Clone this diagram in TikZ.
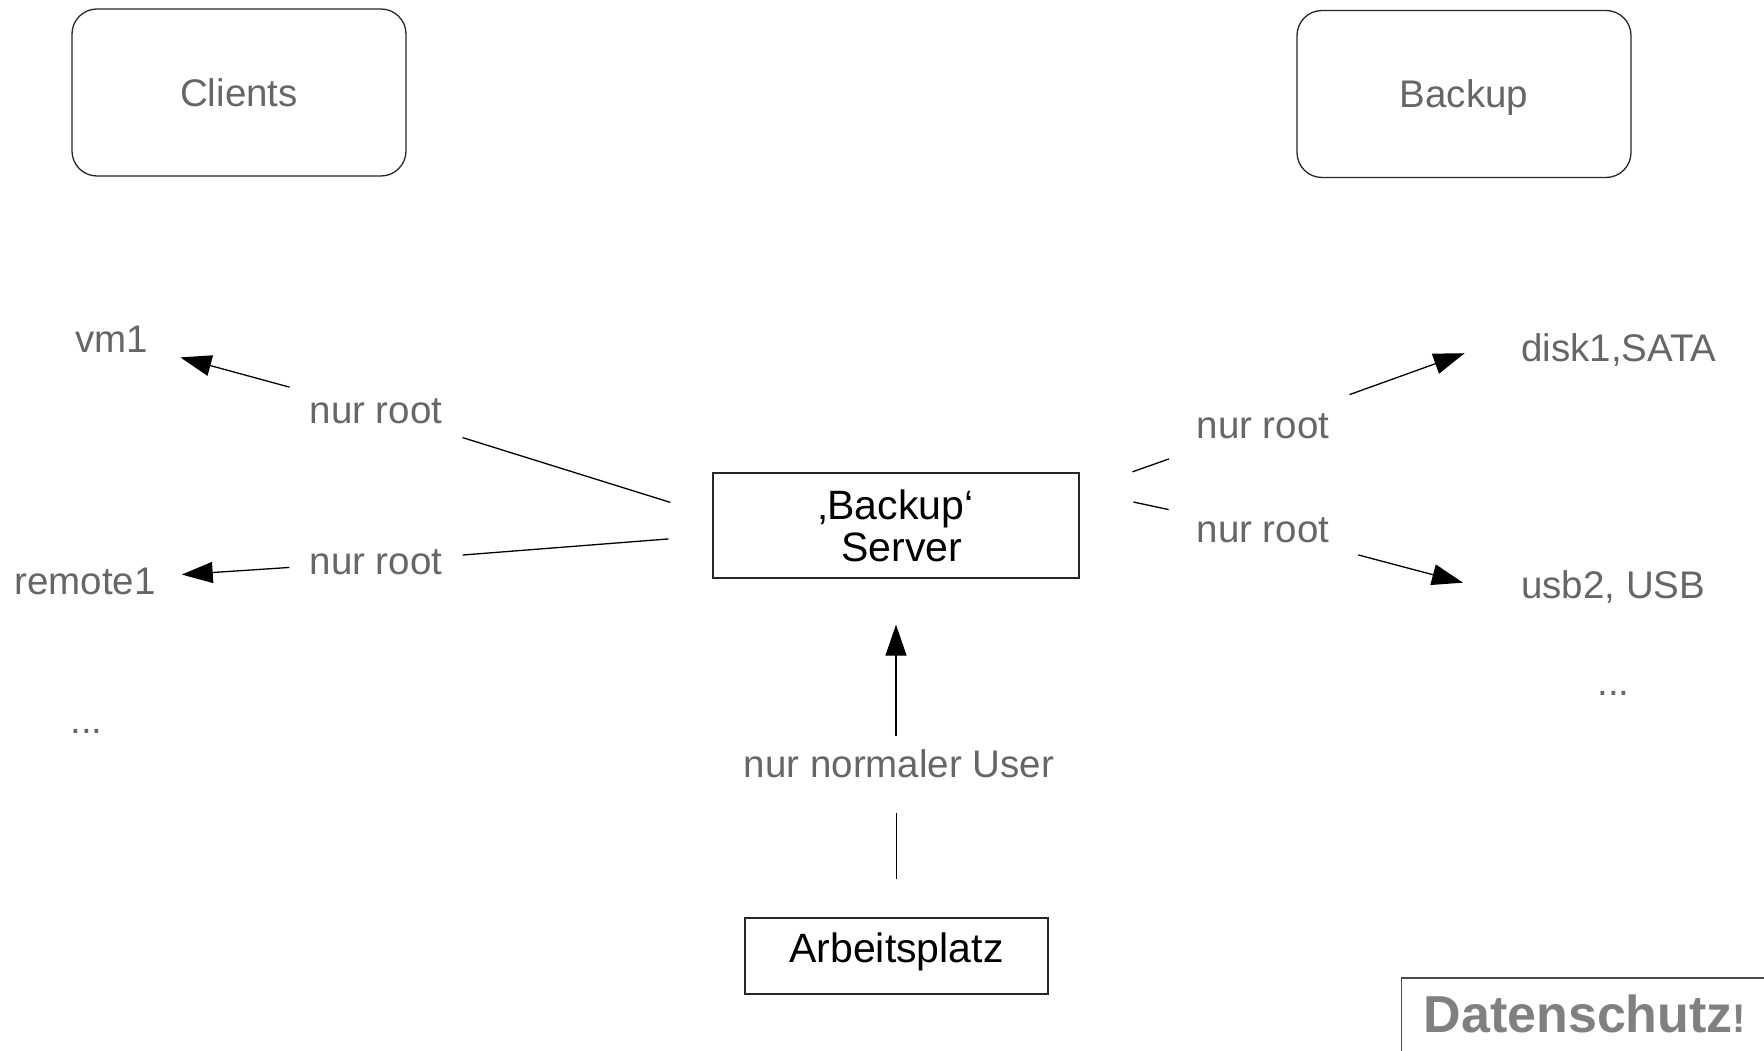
\documentclass[tikz,border=0pt]{standalone}
\usepackage{fontspec}
\setmainfont{Liberation Sans}
\usetikzlibrary{arrows.meta,calc}
\definecolor{txtgray}{HTML}{666666}
\definecolor{dsgray}{HTML}{808080}
\begin{document}
\begin{tikzpicture}[x=1pt,y=-1pt,
  gtext/.style={font=\fontsize{38.5}{46}\selectfont, text=txtgray, inner sep=0pt},
  lab/.style={gtext, inner xsep=20pt, inner ysep=20pt},
  btext/.style={font=\fontsize{41}{42}\selectfont, text=black},
  group/.style={draw=black!85, line width=1.3pt, rounded corners=25pt, minimum width=334pt, minimum height=167pt, gtext, text height=27.5pt, text depth=0pt},
  box/.style={draw=black!85, line width=1.3pt, btext, align=center},
  conn/.style={draw=black, line width=1.3pt},
  arr/.style={conn, -{Triangle[length=31pt,width=21pt]}}
]
\useasboundingbox (0,0) rectangle (1764,1051);

% group headers
\node[group] (clients) at (239,92.5) {Clients};
\node[group] (backupgrp) at (1464,94) {Backup};

% main boxes
\node[box, minimum width=366pt, minimum height=105pt] (server) at (896,525.5) {‚Backup‘\\~Server};
\node[box, minimum width=303pt, minimum height=76pt, text height=30pt, text depth=18pt] (arbeit) at (896.5,956) {Arbeitsplatz};

% labels on connectors
\node[lab, anchor=base] (labL1) at (376,423) {nur root};
\node[lab, anchor=base] (labL2) at (376,574) {nur root};
\node[lab, anchor=base] (labR1) at (1263,438) {nur root};
\node[lab, anchor=base] (labR2) at (1263,542) {nur root};
\node[lab, anchor=base] (userlab) at (899,777) {nur normaler User};

% plain text items
\node[gtext, anchor=base] (vm1) at (112,352) {vm1};
\node[gtext, anchor=base] (remote1) at (85,594) {remote1};
\node[gtext, anchor=base] (dotsL) at (86.5,733) {...};
\node[gtext, anchor=base west] (disk1) at (1521,361) {disk1,SATA};
\node[gtext, anchor=base west] (usb2) at (1521,598) {usb2, USB};
\node[gtext, anchor=base] (dotsR) at (1613.5,695) {...};

% Datenschutz
\node[draw=black!70, line width=1.3pt, anchor=base west, text width=360pt, align=left,
      text height=40pt, text depth=80pt, inner xsep=22pt, inner ysep=14pt,
      text=dsgray, font=\bfseries\fontsize{52}{60}\selectfont] (ds) at (1401,1032)
      {Datenschutz{\fontsize{40}{48}\selectfont !}};

% anchor points on the server
\coordinate (sw1) at ($(server.west)+(0,-10)$);
\coordinate (sw2) at ($(server.west)+(0,10)$);
\coordinate (se) at ($(server.east)+(0,-35)$);
\coordinate (sb) at (server.south);

% connectors
\draw[conn, shorten <=44pt] (sw1) -- (labL1);
\draw[arr, shorten >=33pt] (labL1) -- (vm1);
\draw[conn, shorten <=44pt] (sw2) -- (labL2);
\draw[arr, shorten >=26pt] (labL2) -- (remote1);
\draw[conn, shorten <=56pt, shorten >=8pt] (se) -- (labR1);
\draw[conn, shorten <=55pt, shorten >=8pt] (se) -- (labR2);
\draw[arr, shorten >=60pt] (labR1) -- (disk1.north west);
\draw[arr, shorten <=9pt, shorten >=60pt] (labR2) -- (usb2.base west);
\draw[conn, shorten <=38pt, shorten >=15pt] (arbeit.north) -- (arbeit.north |- userlab.south);
\draw[arr, shorten <=-7pt, shorten >=46pt] (userlab.north -| sb) -- (sb);
\end{tikzpicture}
\end{document}
